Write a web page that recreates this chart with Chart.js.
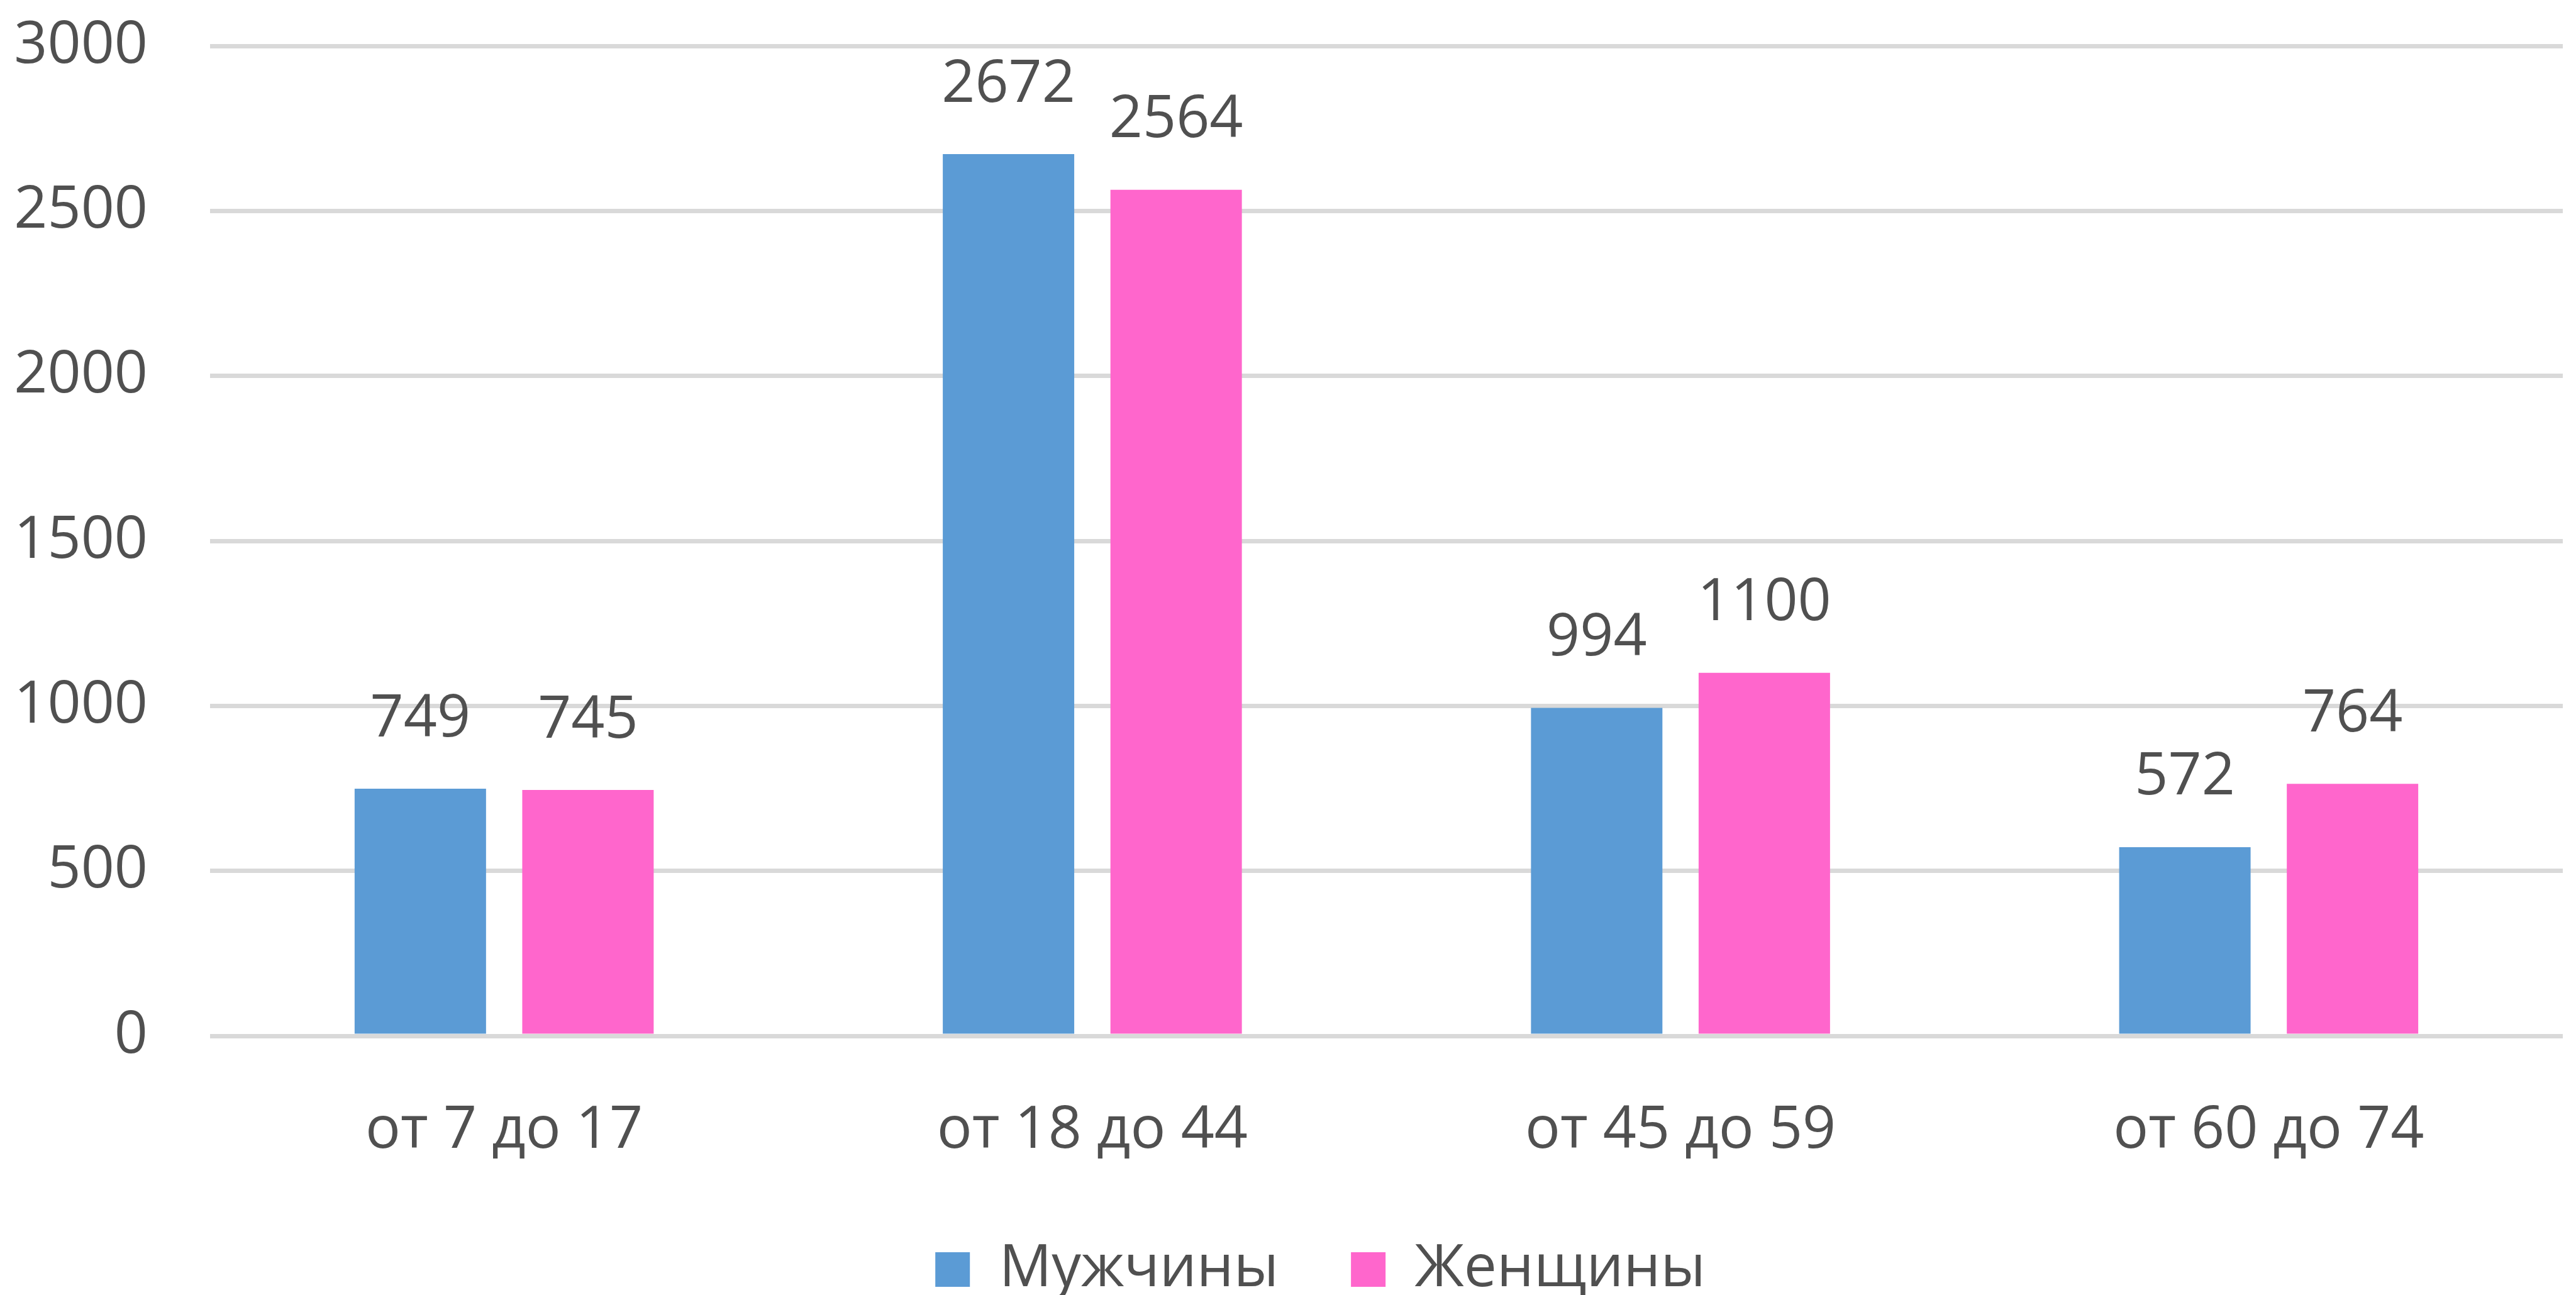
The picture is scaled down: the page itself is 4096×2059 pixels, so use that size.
<!DOCTYPE html>
<html>
<head>
<meta charset="utf-8">
<script src="https://cdn.jsdelivr.net/npm/chart.js@4.4.0/dist/chart.umd.min.js"></script>
<style>
  html, body { margin: 0; padding: 0; background: #fff; }
  #wrap { width: 4096px; height: 2059px; }
</style>
</head>
<body>
<div id="wrap"><canvas id="grafica"></canvas></div>
<script>
const categorias = ['от 7 до 17', 'от 18 до 44', 'от 45 до 59', 'от 60 до 74'];
const mujchiny = [749, 2672, 994, 572];
const jenshiny = [745, 2564, 1100, 764];
const nombresSeries = ['Мужчины', 'Женщины'];
const ticksY = [0, 500, 1000, 1500, 2000, 2500, 3000];

const colorTexto = '#505050';
const fuente = { family: '"Open Sans", "Noto Sans", sans-serif', size: 93 };

// etiquetas de valor encima de cada barra
const etiquetasValor = {
  id: 'etiquetasValor',
  afterDatasetsDraw(chart) {
    const ctx = chart.ctx;
    ctx.save();
    ctx.fillStyle = colorTexto;
    ctx.font = fuente.size + 'px ' + fuente.family;
    ctx.textAlign = 'center';
    ctx.textBaseline = 'middle';
    chart.data.datasets.forEach((ds, i) => {
      chart.getDatasetMeta(i).data.forEach((barra, j) => {
        ctx.fillText(ds.data[j], barra.x, barra.y - 110);
      });
    });
    ctx.restore();
  }
};

// mover la leyenda un poco a la derecha, como en el original
const moverLeyenda = {
  id: 'moverLeyenda',
  beforeDraw(chart) {
    if (!chart.legend._movida) {
      chart.legend.left += 62;
      chart.legend.right += 62;
      chart.legend._movida = true;
    }
  },
  afterLayout(chart) { chart.legend._movida = false; }
};

new Chart(document.getElementById('grafica').getContext('2d'), {
  type: 'bar',
  data: {
    labels: categorias,
    datasets: [
      { label: nombresSeries[0], data: mujchiny, backgroundColor: '#5B9BD5' },
      { label: nombresSeries[1], data: jenshiny, backgroundColor: '#FF66CC' }
    ]
  },
  options: {
    responsive: true,
    maintainAspectRatio: false,
    animation: false,
    devicePixelRatio: 1,
    categoryPercentage: 0.57,
    barPercentage: 0.784,
    layout: { padding: { top: 73, right: 21, left: 0, bottom: -16 } },
    scales: {
      x: {
        grid: { display: false },
        border: { display: false },
        ticks: { color: colorTexto, font: fuente, padding: 88, maxRotation: 0 },
        afterFit(scale) { scale.height = 210; }
      },
      y: {
        min: 0,
        max: 3000,
        afterBuildTicks(scale) { scale.ticks = ticksY.map(v => ({ value: v })); },
        grid: { color: '#D9D9D9', lineWidth: 7, drawTicks: false },
        border: { display: false },
        ticks: { color: colorTexto, font: fuente, padding: 99, callback: v => String(v) },
        afterFit(scale) {
          scale.width = 334;
          scale.paddingTop = 0;
          scale.paddingBottom = 0;
        }
      }
    },
    plugins: {
      tooltip: { enabled: false },
      legend: {
        position: 'bottom',
        labels: {
          color: colorTexto,
          font: fuente,
          boxWidth: 55,
          boxHeight: 55,
          padding: 115
        }
      }
    }
  },
  plugins: [etiquetasValor, moverLeyenda]
});
</script>
</body>
</html>
